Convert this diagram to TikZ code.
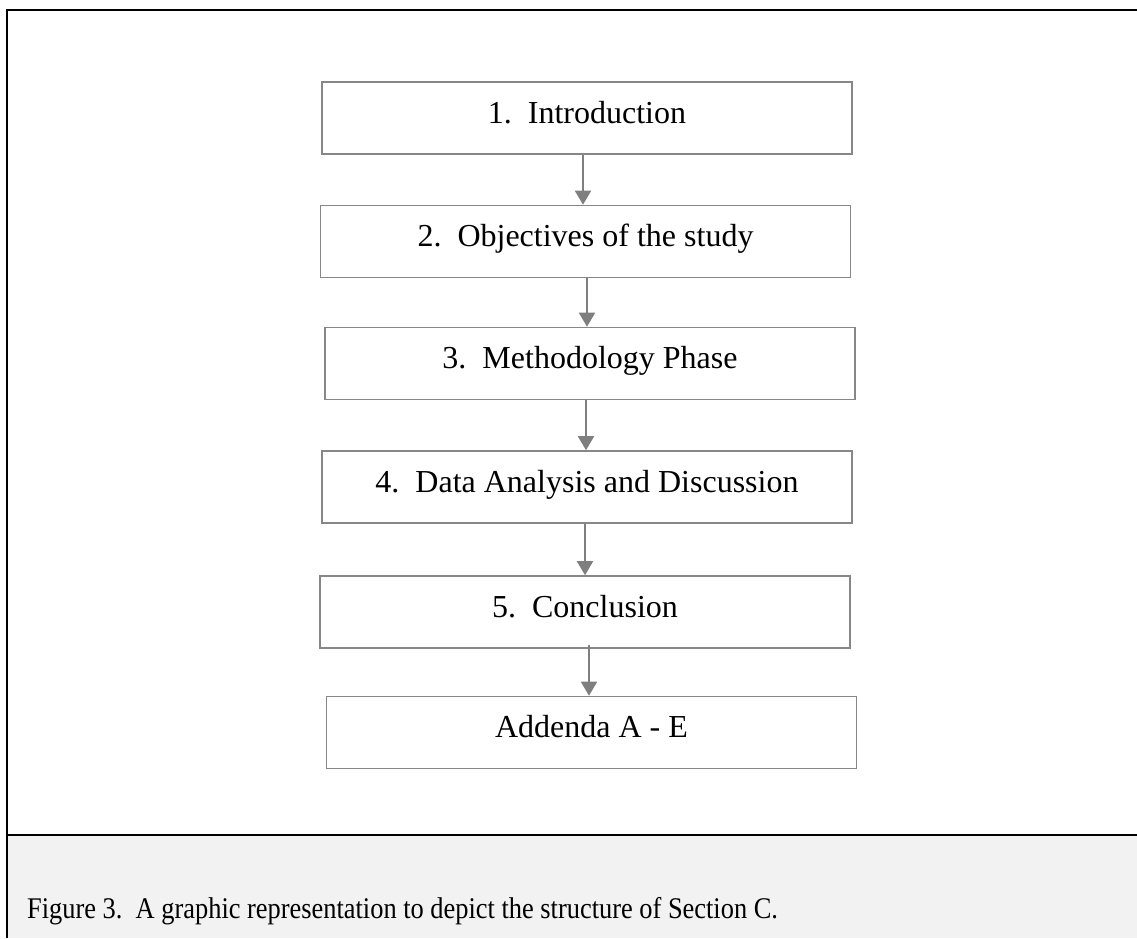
\documentclass[tikz,border=0pt]{standalone}
\usepackage{fontspec}
\setmainfont{Liberation Serif}
\usetikzlibrary{arrows.meta}
\definecolor{boxgray}{HTML}{878787}
\definecolor{arrgray}{HTML}{7F7F7F}
\definecolor{capbg}{HTML}{F2F2F2}
\tikzset{
  stepbox/.style={draw=boxgray, line width=1.6pt, minimum width=530pt, inner sep=0pt,
    text height=41pt, text depth=31pt, font=\fontsize{32}{38}\selectfont},
  flowarrow/.style={draw=arrgray, line width=1.9pt, -{Triangle[length=14pt,width=16pt]}},
  framerule/.style={draw=black, line width=1.8pt},
  captext/.style={anchor=base west, inner sep=0pt, font=\fontsize{30}{36}\selectfont}
}
\newcommand{\numgap}{\hspace{0.5em}}
\begin{document}
\begin{tikzpicture}[x=1pt, y=-1pt]
\useasboundingbox (0,0) rectangle (1137,938);
% caption band
\fill[capbg] (7,835) rectangle (1137,938);
\draw[framerule] (7,938) -- (7,10) -- (1140,10);
\draw[framerule] (7,835) -- (1140,835);
% boxes
\node[stepbox] (b1) at (587,118)   {1.\numgap Introduction};
\node[stepbox] (b2) at (585.5,241.5) {2.\numgap Objectives of the study};
\node[stepbox] (b3) at (590,363.5) {3.\numgap Methodology Phase};
\node[stepbox] (b4) at (587,487)   {4.\numgap Data Analysis and Discussion};
\node[stepbox] (b5) at (585,612)   {5.\numgap Conclusion};
\node[stepbox] (b6) at (591.5,732.5) {Addenda A - E};
% arrows
\draw[flowarrow] ([xshift=-4pt]b1.south) -- ([xshift=-4pt]b1.south |- b2.north);
\draw[flowarrow] ([xshift=1.5pt]b2.south) -- ([xshift=1.5pt]b2.south |- b3.north);
\draw[flowarrow] ([xshift=-4pt]b3.south) -- ([xshift=-4pt]b3.south |- b4.north);
\draw[flowarrow] ([xshift=-2pt]b4.south) -- ([xshift=-2pt]b4.south |- b5.north);
\draw[flowarrow] ([xshift=4pt,yshift=4pt]b5.south) -- ([xshift=4pt]b5.south |- b6.north);
% caption
\node[captext] (cap) at (27,918) {\scalebox{0.88}[1]{Figure 3.\numgap A graphic representation to depict the structure of Section C.}};
\end{tikzpicture}
\end{document}
